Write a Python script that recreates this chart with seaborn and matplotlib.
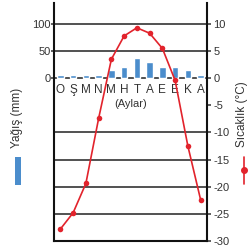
import matplotlib
matplotlib.use("Agg")
import matplotlib.pyplot as plt
from matplotlib.patches import Rectangle
from matplotlib.lines import Line2D
import numpy as np
import pandas as pd
import seaborn as sns

months = ["Ocak", "Şubat", "Mart", "Nisan", "Mayıs", "Haziran",
          "Temmuz", "Ağustos", "Eylül", "Ekim", "Kasım", "Aralık"]
month_letters = ["O", "Ş", "M", "N", "M", "H", "T", "A", "E", "E", "K", "A"]
precip_mm = [6, 6, 6, 6, 15, 21, 37, 31, 21, 21, 15, 6]
temp_c = [-27.8, -24.8, -19.4, -7.4, 3.5, 7.8, 9.3, 8.3, 5.5, -0.4, -12.5, -22.4]
precip_ticks = [0, 50, 100]
temp_ticks = [10, 5, 0, -5, -10, -15, -20, -25, -30]
grid_levels = [10, 5, 0, -10, -15, -20, -25]

df = pd.DataFrame({"ay": months, "yagis": precip_mm,
                   "idx": np.arange(len(months)), "sicaklik": temp_c})

sns.set_style("white")
plt.rcParams["font.family"] = ["Liberation Sans", "DejaVu Sans"]

BLUE = "#4b8dcc"
RED = "#e2232c"
TXT = "#333333"

fig = plt.figure(figsize=(2.48, 2.49), dpi=100)
ax = fig.add_axes([54 / 248, 8 / 249, 153 / 248, 238 / 249])
ax.set_zorder(2)
ax.patch.set_visible(False)

sns.barplot(data=df, x="ay", y="yagis", ax=ax, color=BLUE, width=0.5,
            saturation=1, zorder=2)
ax.set_ylim(-300, 139)
ax.set_xlim(-0.5, len(months) - 0.5)
ax.set_yticks(precip_ticks)
ax.set_yticklabels([str(v) for v in precip_ticks])
ax.set_xticks(range(len(months)))
ax.set_xticklabels(month_letters)
ax.spines["bottom"].set_position(("data", 0))
ax.spines["bottom"].set_visible(False)
ax.spines["top"].set_visible(False)
ax.spines["right"].set_visible(False)
ax.spines["left"].set_linewidth(1.5)
ax.spines["left"].set_color("#111111")
ax.tick_params(axis="x", length=0, pad=4, labelsize=8.5, colors=TXT)
ax.tick_params(axis="y", length=2, width=1.1, pad=0.5, labelsize=8, colors=TXT,
               left=True)
ax.set_xlabel("(Aylar)", fontsize=8, color=TXT, labelpad=2.5)
ax.set_ylabel("")

ax2 = fig.add_axes(ax.get_position(), sharex=ax)
ax2.set_zorder(1)
ax2.yaxis.tick_right()
ax2.set_ylim(-30, 13.87)
for g in grid_levels:
    ax2.axhline(g, color="#222222", lw=1.1, zorder=1)
ax2.set_xticks([])
ax2.tick_params(axis="x", bottom=False, labelbottom=False)

# temperature line drawn on a top overlay sharing the temperature scale
ax3 = fig.add_axes(ax.get_position(), sharex=ax, sharey=ax2)
ax3.set_zorder(3)
ax3.patch.set_visible(False)
sns.lineplot(data=df, x="idx", y="sicaklik", ax=ax3, color=RED, lw=1.2,
             marker="o", markersize=4, markeredgewidth=0, zorder=5)
ax3.axis("off")

ax2.set_yticks(temp_ticks)
ax2.set_yticklabels([str(v) for v in temp_ticks])
ax2.set_ylabel("")
ax2.set_xlabel("")
ax2.spines["top"].set_visible(False)
ax2.spines["left"].set_visible(False)
for s in ["right", "bottom"]:
    ax2.spines[s].set_linewidth(1.5)
    ax2.spines[s].set_color("#111111")
ax2.tick_params(axis="y", right=True, left=False, length=3, width=1.1, pad=1.5,
                labelsize=8, colors=TXT)
ax.set_xticks(range(len(months)))
ax.set_xticklabels(month_letters)
ax.set_xlim(-0.5, len(months) - 0.5)

# axis titles with legend keys
fig.text(17 / 248, 1 - 118 / 249, "Yağış (mm)", rotation=90, ha="center",
         va="center", fontsize=8.5, color=TXT)
fig.add_artist(Rectangle((15 / 248, 1 - 185 / 249), 6 / 248, 28 / 249,
                         transform=fig.transFigure, color=BLUE, lw=0))
fig.text(242 / 248, 1 - 114 / 249, "Sıcaklık (°C)", rotation=90, ha="center",
         va="center", fontsize=8.5, color=TXT)
fig.add_artist(Line2D([244 / 248, 244 / 248], [1 - 157 / 249, 1 - 184 / 249],
                      transform=fig.transFigure, color=RED, lw=1.2))
fig.add_artist(Line2D([244 / 248], [1 - 170 / 249], transform=fig.transFigure,
                      color=RED, marker="o", markersize=4, lw=0))

fig.savefig("out.png", dpi=100)
